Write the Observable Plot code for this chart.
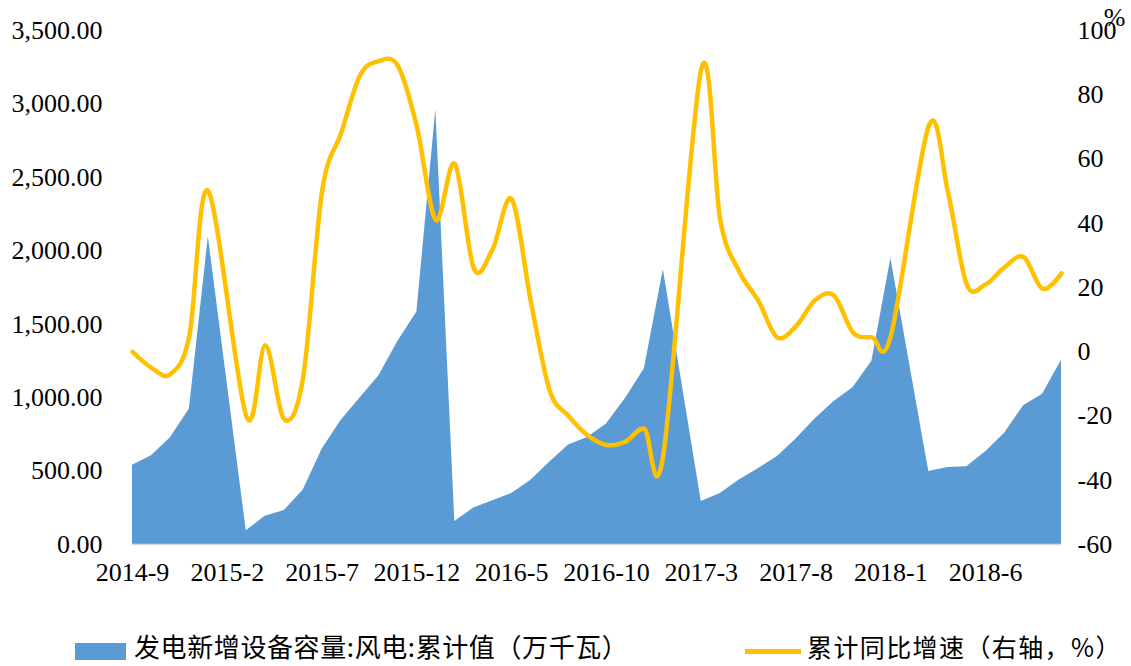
<!DOCTYPE html>
<html><head><meta charset="utf-8">
<script src="https://cdn.jsdelivr.net/npm/d3@7"></script>
<script src="https://cdn.jsdelivr.net/npm/@observablehq/plot@0.6"></script>
<style>
body{margin:0;background:#fff;}
#wrap{position:relative;width:1131px;height:666px;overflow:hidden;background:#fff;}
#chart{position:absolute;left:0;top:0;}
.lg{position:absolute;font-family:"Noto Sans CJK SC","Noto Sans",sans-serif;font-size:26px;color:#000;line-height:26px;white-space:nowrap;}
.sw{position:absolute;}
</style></head>
<body><div id="wrap"><div id="chart"></div>
<div class="sw" style="left:75px;top:643px;width:51px;height:17px;background:#5B9BD5;"></div>
<div class="lg" style="left:134px;top:633px;letter-spacing:0.6px;">发电新增设备容量:风电:累计值（万千瓦）</div>
<div class="sw" style="left:745px;top:649px;width:56px;height:5px;background:#FFC000;"></div>
<div class="lg" style="left:807px;top:633px;width:300px;font-size:25px;letter-spacing:1.4px;">累计同比增速（右轴，%）</div>
</div>
<script>
const months = ["2014-9","2014-10","2014-11","2014-12","2015-1","2015-2","2015-3","2015-4","2015-5","2015-6","2015-7","2015-8","2015-9","2015-10","2015-11","2015-12","2016-1","2016-2","2016-3","2016-4","2016-5","2016-6","2016-7","2016-8","2016-9","2016-10","2016-11","2016-12","2017-1","2017-2","2017-3","2017-4","2017-5","2017-6","2017-7","2017-8","2017-9","2017-10","2017-11","2017-12","2018-1","2018-2","2018-3","2018-4","2018-5","2018-6","2018-7","2018-8","2018-9","2018-10"];
const capacity = [540,605,727,922,2095,null,93,192,231,370,648,844,997,1149,1384,1584,2962,157,248,298,347,435,560,677,729,821,994,1196,1873,null,292,348,440,515,598,718,855,973,1068,1248,1948,null,497,524,530,631,758,945,1023,1254];
const yoy = [0,-5,-7,5,50,null,-20,2,-21,-8,50,68,86,90.5,89,70,41,58.5,26,32,47.5,16,-12,-20,-26,-29,-28,-24,-32,null,88,41,25,16,4.5,8,16,17.5,6,4.5,5,null,70.3,50,21,21,26.3,29.5,19.6,24.4];
const tickLabels = ["2014-9","2015-2","2015-7","2015-12","2016-5","2016-10","2017-3","2017-8","2018-1","2018-6"];
const leftTicks = [0,500,1000,1500,2000,2500,3000,3500];
const rightTicks = [-60,-40,-20,0,20,40,60,80,100];

const leftMax = 3500, rMin = -60, rMax = 100;
const toLeft = v => (v - rMin) / (rMax - rMin) * leftMax;
const fromLeft = v => v / leftMax * (rMax - rMin) + rMin;

const rows = months.map((m, i) => ({i, m, cap: capacity[i], yoy: yoy[i]}));
const capRows = rows.filter(d => d.cap != null);
const yoyRows = rows.filter(d => d.yoy != null);
const tickIdx = tickLabels.map(l => months.indexOf(l));
const serif = "'Liberation Serif','Times New Roman',serif";

const chart = Plot.plot({
  width: 1131,
  height: 600,
  marginLeft: 132,
  marginRight: 70,
  marginTop: 30,
  marginBottom: 56,
  style: {fontFamily: serif, fontSize: "26px", color: "#000", background: "#fff"},
  x: {type: "linear", domain: [0, months.length - 1]},
  y: {domain: [0, leftMax]},
  marks: [
    Plot.areaY(capRows, {x: "i", y: "cap", fill: "#5B9BD5"}),
    Plot.ruleY([0], {stroke: "#d9d9d9", strokeWidth: 1.5}),
    Plot.line(yoyRows, {x: "i", y: d => toLeft(d.yoy), stroke: "#FFC000", strokeWidth: 4.5, curve: "cardinal"}),
    Plot.axisY(leftTicks, {anchor: "left", tickSize: 0, tickPadding: 30, tickFormat: d3.format(",.2f"), fontSize: 26, fontFamily: serif, label: null}),
    Plot.axisY(rightTicks.map(toLeft), {anchor: "right", tickSize: 0, tickPadding: 16, textAnchor: "start", tickFormat: v => String(Math.round(fromLeft(v))), fontSize: 26, fontFamily: serif, label: null}),
    Plot.axisX(tickIdx, {anchor: "bottom", tickSize: 0, tickPadding: 18, tickFormat: i => months[i], fontSize: 26, fontFamily: serif, label: null}),
    Plot.text(["%"], {text: d => d, frameAnchor: "top-right", dx: 53, dy: -13, fontSize: 26, fontFamily: serif, textAnchor: "middle", lineAnchor: "middle"})
  ]
});
document.getElementById("chart").appendChild(chart);
</script>
</body></html>
